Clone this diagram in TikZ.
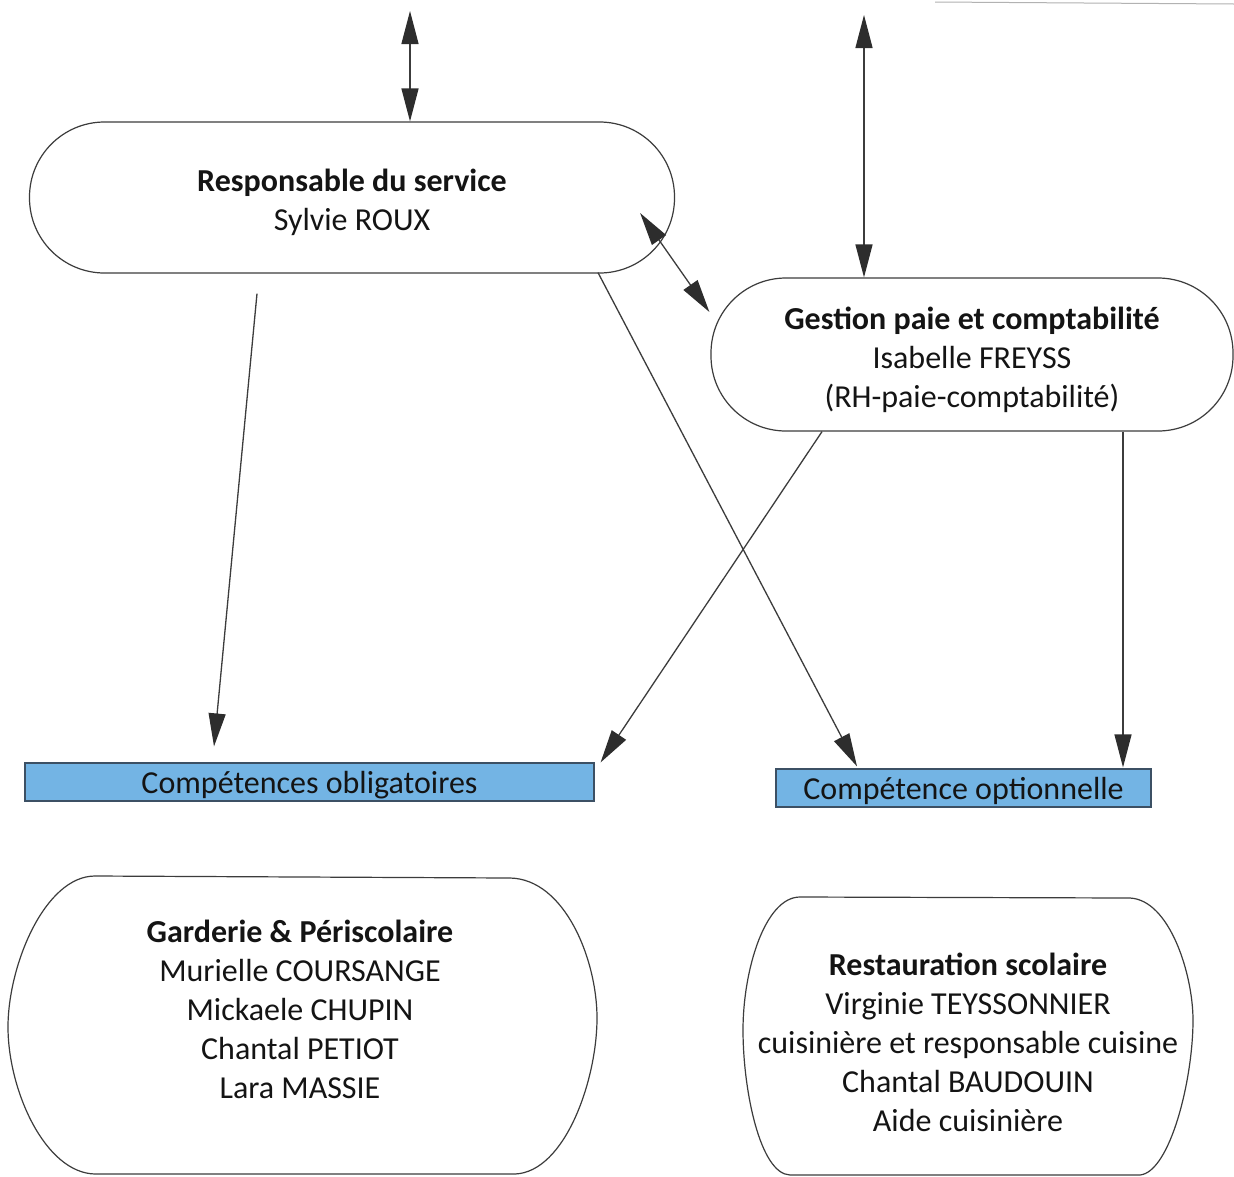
\documentclass[tikz,border=0pt]{standalone}
\usepackage{fontspec}
\setmainfont{Carlito}
\usetikzlibrary{arrows.meta,calc}
\definecolor{boxblue}{RGB}{115,180,228}
\definecolor{boxedge}{RGB}{60,80,100}
\definecolor{ink}{RGB}{20,20,20}
\definecolor{lineink}{RGB}{60,60,60}
\definecolor{headink}{RGB}{45,45,45}
\tikzset{
  stadium/.style={draw=lineink, line width=1.2pt, rectangle, rounded corners=75pt, inner sep=0pt},
  bigtext/.style={font=\fontsize{32}{39}\selectfont, text=ink, align=center},
  compbox/.style={draw=boxedge, line width=1.2pt, fill=boxblue, minimum height=38pt, inner sep=0pt, text depth=0pt, font=\fontsize{32}{39}\selectfont, text=ink},
  head/.tip={Triangle[length=33pt,width=17pt,fill=headink,color=headink]},
  conn/.style={draw=lineink, line width=1.3pt, -head},
  dblconn/.style={draw=lineink, line width=1.3pt, head-head},
  outline/.style={draw=lineink, line width=1.2pt}
}
\begin{document}
\begin{tikzpicture}[x=1pt,y=-1pt]
\useasboundingbox[fill=white] (0,0) rectangle (1234,1176);

% faint line at top right
\draw[gray!60, line width=1pt] (935,2) -- (1234,4);

% Responsable
\node[stadium, minimum width=645pt, minimum height=151pt] (resp) at (352,197.5) {};
\node[bigtext] (resptext) at ($(resp.center)+(0,5)$)
  {\textbf{Responsable du service}\\Sylvie ROUX};

% Gestion
\node[stadium, minimum width=522pt, minimum height=153pt] (gest) at (972,354.5) {};
\node[bigtext] (gesttext) at ($(gest.center)+(0,5)$)
  {\textbf{Gestion paie et comptabilité}\\Isabelle FREYSS\\(RH-paie-comptabilité)};

% Competence boxes
\node[compbox, minimum width=569pt] (oblig) at (309.5,782) {Compétences obligatoires};
\node[compbox, minimum width=375pt] (optio) at (963.5,788) {Compétence optionnelle};

% free ends of top arrows
\coordinate (topL) at (410,11);
\coordinate (topR) at (864,15);

% connectors
\draw[dblconn] (topL) -- (topL |- resp.north);
\draw[dblconn] (topR) -- (topR |- gest.north);
\draw[dblconn] ($(resp.east)+(-35,15.5)$) -- ($(gest.west)+(-1,-42.5)$);
\draw[conn] ($(resp.south)+(-95,20)$) -- ($(oblig.north)+(-95.5,-16)$);
\draw[conn] ($(resp.south)+(246,-1)$) -- ($(optio.north)+(-106.5,-2)$);
\draw[conn] ($(gest.south)+(-150,0)$) -- ($(oblig.north east)+(6,0)$);
\draw[conn] ($(gest.south)+(151,0)$) -- ($(optio.north)+(159.5,-1)$);

% bottom shapes
\node[bigtext] (gard) at (300,1009)
  {\textbf{Garderie \& Périscolaire}\\Murielle COURSANGE\\Mickaele CHUPIN\\Chantal PETIOT\\Lara MASSIE};
\draw[outline] (95,876) -- (510,878) .. controls (565,879) and (597,960) .. (597,1018)
  .. controls (597,1080) and (565,1172) .. (515,1174) -- (95,1174)
  .. controls (45,1173) and (8,1090) .. (8,1027)
  .. controls (8,965) and (45,876) .. (95,876) -- cycle;

\node[bigtext] (rest) at (968,1042)
  {\textbf{Restauration scolaire}\\Virginie TEYSSONNIER\\cuisinière et responsable cuisine\\Chantal BAUDOUIN\\Aide cuisinière};
\draw[outline] (800,897) -- (1130,898) .. controls (1170,900) and (1193,975) .. (1193,1020)
  .. controls (1193,1080) and (1170,1172) .. (1140,1175) -- (790,1175)
  .. controls (760,1174) and (743,1090) .. (743,1030)
  .. controls (743,970) and (765,897) .. (800,897) -- cycle;
\end{tikzpicture}
\end{document}
